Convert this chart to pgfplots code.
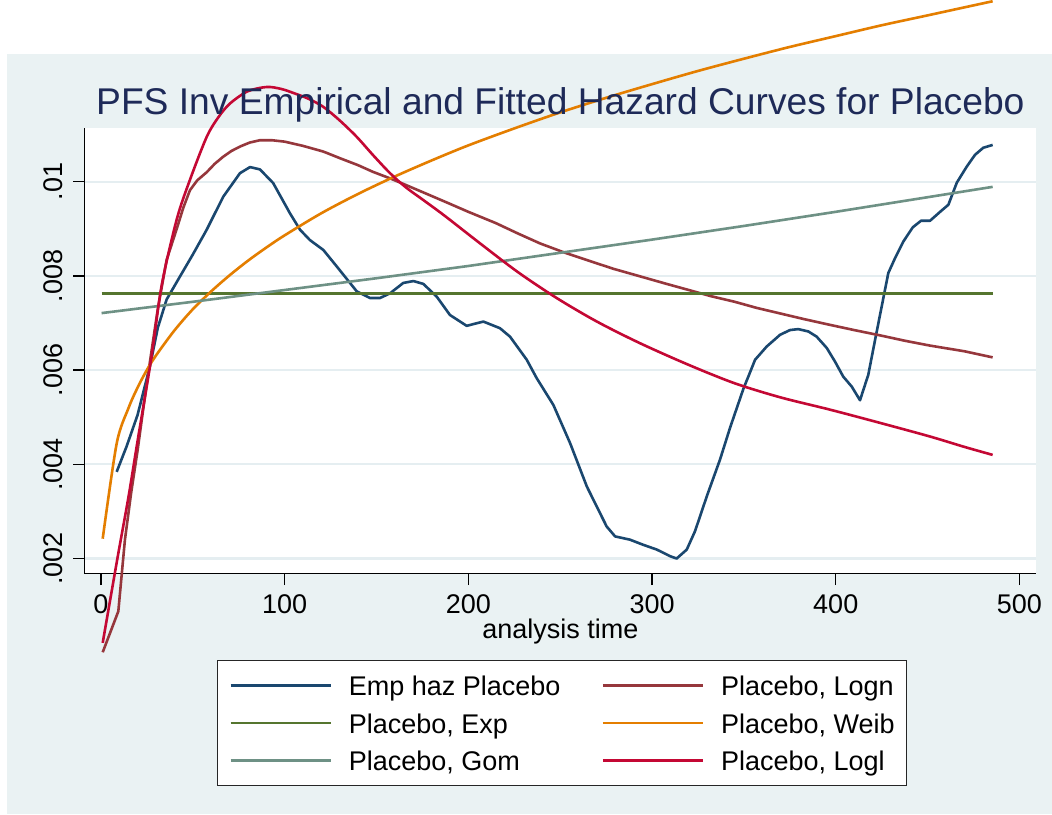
\documentclass[border=0pt]{standalone}
\usepackage{pgfplots}
\pgfplotsset{compat=1.18}
\usepackage{fontspec}
\setmainfont{Liberation Sans}

\definecolor{panel}{RGB}{234,242,243}
\definecolor{gridc}{RGB}{229,238,241}
\definecolor{titlec}{RGB}{30,42,88}
\definecolor{snavy}{RGB}{26,71,111}
\definecolor{smaroon}{RGB}{150,55,60}
\definecolor{sgreen}{RGB}{85,117,47}
\definecolor{sorange}{RGB}{228,126,0}
\definecolor{steal}{RGB}{110,145,133}
\definecolor{scran}{RGB}{196,8,52}

\begin{document}
\begin{tikzpicture}[x=1pt,y=1pt]
% page and graph region
\fill[white] (0,0) rectangle (1052,814);
\fill[panel] (6.7,0) rectangle (1052,760);
\begin{axis}[
  at={(84.7pt,240.3pt)}, anchor=south west,
  scale only axis, width=951.3pt, height=445.4pt,
  xmin=-8.8, xmax=509, ymin=0.001678, ymax=0.011133,
  clip=false,
  axis x line*=bottom, axis y line*=left,
  axis line style={-, line width=1.3pt, black},
  axis background/.style={fill=white},
  tick align=outside, major tick length=11.5pt,
  tick style={line width=1.3pt, black},
  xtick={0,100,200,300,400,500},
  xticklabels={0,100,200,300,400,500},
  ytick={0.002,0.004,0.006,0.008,0.01},
  yticklabels={.002,.004,.006,.008,.01},
  scaled y ticks=false, scaled x ticks=false,
  ymajorgrids, major grid style={gridc, line width=2.2pt},
  ticklabel style={font=\fontsize{27}{30}\selectfont, inner sep=0pt},
  xticklabel style={anchor=base, yshift=-28.5pt},
  yticklabel style={xshift=-10.5pt, rotate=90, anchor=base},
  title={PFS Inv Empirical and Fitted Hazard Curves for Placebo},
  title style={at={(0.5,1.0299)}, anchor=base, inner sep=0pt, yshift=-6pt,
    font=\fontsize{37.2}{40}\selectfont, text=titlec},
  xlabel={analysis time},
  xlabel style={at={(0.5,-0.1466)}, anchor=base, inner sep=0pt,
    font=\fontsize{27}{30}\selectfont},
  every axis plot/.append style={line width=2.6pt, mark=none, line join=round},
  legend columns=2, legend cell align=left,
  legend image code/.code={\draw[#1, line width=2.6pt] (0pt,0pt) -- (100pt,0pt);},
  legend style={at={(0.5017,-0.1938)}, anchor=north,
    draw=black!85, line width=1.1pt, fill=white,
    inner xsep=12pt, inner ysep=11pt, row sep=9.5pt,
    font=\fontsize{27}{30}\selectfont,
    nodes={inner sep=0pt, text height=24pt, text depth=4pt},
    /tikz/every odd column/.append style={column sep=17pt},
    /tikz/every even column/.append style={column sep=41pt}},
]
% empirical smoothed hazard
\addplot[snavy] coordinates {
(8.6,0.00384) (14,0.00438) (20,0.00505) (26.8,0.00610) (31,0.00690)
(35.8,0.00750) (43.1,0.00799) (50,0.00845) (57.6,0.00898) (66.6,0.00968)
(75.7,0.01018) (81.2,0.01031) (86.6,0.01026) (93.8,0.00997) (102.9,0.00933)
(108.4,0.00898) (113.8,0.00876) (121.1,0.00855) (128.4,0.00820) (135.6,0.00785)
(139.3,0.00767) (146.5,0.00753) (151.9,0.00753) (157.4,0.00763) (164.6,0.00785)
(170.1,0.00789) (175.5,0.00783) (182.8,0.00756) (190,0.00717) (199.1,0.00694)
(208.2,0.00703) (217.2,0.00689) (222.7,0.00671) (231.8,0.00622) (237.2,0.00583)
(246.3,0.00526) (255.4,0.00445) (264.5,0.00353) (275.3,0.00268) (279.9,0.00247)
(288,0.00240) (295.3,0.00229) (302.6,0.00219) (309.8,0.00205) (313.4,0.00200)
(318.9,0.00219) (323.4,0.00258) (329.8,0.00332) (337,0.00410) (342.5,0.00478)
(349.7,0.00560) (356.1,0.00622) (362.4,0.00650) (369.7,0.00675) (375.1,0.00685)
(379.6,0.00687) (385.1,0.00682) (389.6,0.00671) (395.1,0.00647) (399.6,0.00618)
(404.1,0.00586) (408.7,0.00565) (413.2,0.00536) (417.7,0.00590) (421.4,0.00664)
(425,0.00735) (428.6,0.00806) (432.3,0.00838) (436.8,0.00873) (441.9,0.00903)
(446.4,0.00917) (451.3,0.00917) (456.8,0.00936) (461.3,0.00951) (465.9,0.00998)
(471.3,0.01032) (475.8,0.01057) (480.3,0.01072) (485.4,0.01078)
};
\addlegendentry{Emp haz Placebo}
% lognormal
\addplot[smaroon] coordinates {
(1,0.00001) (9.5,0.00088) (13.1,0.0024) (16.5,0.0034) (20,0.0043)
(23.5,0.0053) (26.8,0.0062) (31,0.0073) (35.8,0.00834) (41.3,0.0090)
(44.9,0.00945) (48.5,0.00982) (52.5,0.01003) (57.6,0.0102) (62,0.01038)
(66.6,0.01053) (71,0.01065) (76,0.01075) (81,0.01083) (86.6,0.01088)
(93,0.01088) (100,0.01085) (110,0.01076) (121,0.01064) (130,0.01050)
(140,0.01035) (148,0.01021) (157.4,0.01007) (166,0.00993) (175,0.00978)
(187,0.00958) (200,0.00936) (215,0.00912) (227,0.00890) (239,0.00869)
(252,0.00850) (265,0.00833) (279,0.00815) (293.5,0.00799) (307,0.00784)
(320,0.00770) (332,0.00757) (345,0.00745) (357,0.00732) (370,0.0072)
(383,0.00708) (396.9,0.00696) (410,0.00685) (425,0.00673) (438,0.00662)
(451.3,0.00652) (470,0.0064) (485.4,0.00627)
};
\addlegendentry{Placebo, Logn}
% exponential
\addplot[sgreen] coordinates {(0.4,0.00763) (485.4,0.00763)};
\addlegendentry{Placebo, Exp}
% Weibull
\addplot[sorange, smooth, tension=0.5] coordinates {
(1,0.002421) (8.6,0.00444) (15,0.00519) (20,0.00563) (25,0.00600)
(30,0.00631) (40,0.00684) (50,0.00729) (60,0.00767) (70,0.00801)
(80,0.00832) (90,0.00860) (100,0.00886) (120,0.00933) (140,0.00974)
(160,0.01011) (180,0.01045) (200,0.01077) (225,0.01113) (250,0.01147)
(275,0.01178) (300,0.01207) (325,0.01235) (350,0.01261) (375,0.01286)
(400,0.01309) (425,0.01332) (450,0.01353) (470,0.01370) (485.4,0.01383)
};
\addlegendentry{Placebo, Weib}
% Gompertz
\addplot[steal] coordinates {
(0.4,0.00721) (50,0.00745) (100,0.00770) (150,0.00795) (200,0.00821)
(250,0.00849) (300,0.00877) (350,0.00906) (400,0.00936) (450,0.00967)
(485.4,0.00989)
};
\addlegendentry{Placebo, Gom}
% log-logistic
\addplot[scran, smooth, tension=0.5] coordinates {
(1,0.00021) (9,0.0020) (15,0.0033) (20,0.0045) (27.6,0.00629)
(33.1,0.0078) (41.3,0.0092) (48.5,0.01004) (57.6,0.01095) (64,0.01137)
(70.3,0.01166) (80,0.01192) (90.3,0.01201) (98,0.01197) (105,0.01188)
(113,0.01176) (121,0.01159) (130,0.01130) (139.3,0.01095) (148,0.01057)
(157.4,0.01018) (166,0.00988) (175.5,0.00961) (187,0.00928) (206.4,0.00869)
(227,0.00808) (248.1,0.00753) (270,0.00703) (293.5,0.00657) (320,0.00611)
(345,0.00572) (370,0.00542) (396.9,0.00516) (425,0.00487) (451.3,0.00459)
(470,0.00437) (485.4,0.0042)
};
\addlegendentry{Placebo, Logl}
\end{axis}
\pgfresetboundingbox
\path[use as bounding box] (0,0) rectangle (1052,814);
\end{tikzpicture}
\end{document}
